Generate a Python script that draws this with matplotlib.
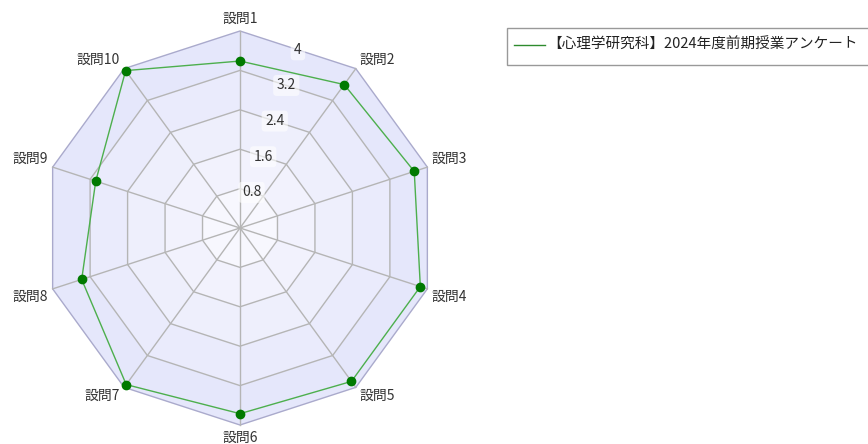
import numpy as np
import matplotlib
matplotlib.use('Agg')
import matplotlib.pyplot as plt
from matplotlib.patches import Polygon, Rectangle

plt.rcParams['font.family'] = ['Noto Sans CJK JP', 'DejaVu Sans']

# データ
categories = ['設問1', '設問2', '設問3', '設問4', '設問5',
              '設問6', '設問7', '設問8', '設問9', '設問10']
values = [3.39, 3.60, 3.72, 3.85, 3.85, 3.77, 3.93, 3.38, 3.08, 3.95]
ring_values = [0.8, 1.6, 2.4, 3.2, 4.0]
ring_labels = ['0.8', '1.6', '2.4', '3.2', '4']
series_name = '【心理学研究科】2024年度前期授業アンケート'

W, H = 868, 444
cx, cy = 240, 228          # centro (px)
rmax = 4.0
s = 197 / rmax             # px por unidade

fig = plt.figure(figsize=(W / 100, H / 100), dpi=100)
ax = fig.add_axes([0, 0, 1, 1])
ax.axis('off')
ax.set_xlim(-cx / s, (W - cx) / s)
ax.set_ylim(-(H - cy) / s, cy / s)


def px(x, y):
    # pixel -> dados
    return (x - cx) / s, (cy - y) / s


n = len(categories)
ang = np.pi / 2 - np.arange(n) * 2 * np.pi / n
cosa, sina = np.cos(ang), np.sin(ang)

# faixas (de fora para dentro)
band_colors = ['#e5e7fb', '#eaebfc', '#eeeffc', '#f2f2fd', '#f7f7fe']
for r, c in zip(ring_values[::-1], band_colors):
    ax.add_patch(Polygon(np.c_[r * cosa, r * sina], closed=True,
                         facecolor=c, edgecolor='none', zorder=1))

# aneis da grelha
for r in ring_values:
    col = '#aaaacc' if r == rmax else '#b5b5b5'
    ax.add_patch(Polygon(np.c_[r * cosa, r * sina], closed=True,
                         facecolor='none', edgecolor=col, lw=1, zorder=2))
# raios
for c, sn in zip(cosa, sina):
    ax.plot([0, rmax * c], [0, rmax * sn], color='#b5b5b5', lw=1, zorder=2)

# etiquetas dos aneis, na bissetriz entre o eixo 1 e o 2
mid = np.pi / 2 - np.pi / n
for r, t in zip(ring_values, ring_labels):
    rr = r * np.cos(np.pi / n)
    ax.text(rr * np.cos(mid), rr * np.sin(mid), t, fontsize=10,
            ha='center', va='center', color='#333333', zorder=5,
            bbox=dict(boxstyle='round,pad=0.25', fc='white', ec='none', alpha=0.6))

# etiquetas dos eixos
for lab, c, sn in zip(categories, cosa, sina):
    if abs(c) < 0.01:
        ha = 'center'
        dx, dy = 0, (4 if sn > 0 else -4)
    else:
        ha = 'left' if c > 0 else 'right'
        dx, dy = (3 if c > 0 else -3), (1 if sn > 0 else -1)
    va = 'bottom' if sn > 0 else 'top'
    ax.annotate(lab, (rmax * c, rmax * sn), xytext=(dx, dy), textcoords='offset points',
                ha=ha, va=va, fontsize=10, color='#333333', zorder=6)

# serie
vals = np.array(values)
xs, ys = vals * cosa, vals * sina
ax.plot(np.r_[xs, xs[0]], np.r_[ys, ys[0]], color='#4daf4d', lw=1, zorder=3)
ax.plot(xs, ys, 'o', color='#007a00', ms=6, zorder=4)

# caixa da legenda
x0, y0 = px(507, 65)
x1, y1 = px(880, 28)
ax.add_patch(Rectangle((x0, y0), x1 - x0, y1 - y0, facecolor='white',
                       edgecolor='#999999', lw=1, zorder=5, clip_on=False))
lx0, ly = px(514, 45)
lx1, _ = px(545, 45)
ax.plot([lx0, lx1], [ly, ly], color='#2e8b2e', lw=1, zorder=6)
tx, ty = px(547, 45)
ax.text(tx, ty, series_name, fontsize=10.5, ha='left', va='center',
        color='#222222', zorder=6)

fig.savefig('out.png', dpi=100)
